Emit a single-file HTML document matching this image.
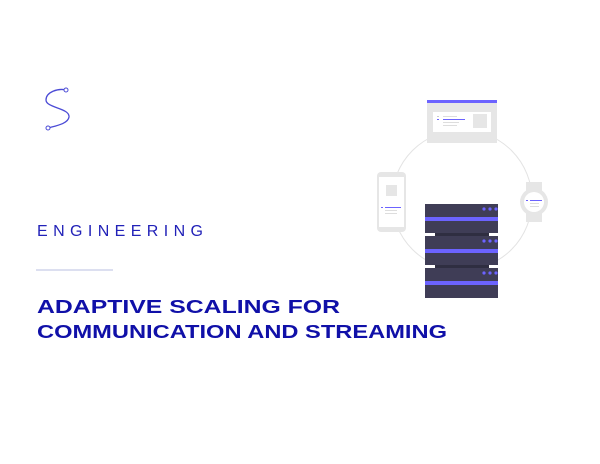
<!DOCTYPE html>
<html><head><style>html,body{margin:0;padding:0;background:#fff}svg{display:block}</style></head>
<body>
<svg width="600" height="464" viewBox="0 0 600 464" xmlns="http://www.w3.org/2000/svg">
<rect width="600" height="464" fill="#fff"/>
<!-- S logo -->
<path d="M66,90 C58,88 46,92 46,100 C46,108 70,108 69,117 C68,124 55,126 48,128" fill="none" stroke="#4b4bd6" stroke-width="1.3"/>
<circle cx="66" cy="90" r="2" fill="#fff" stroke="#4b4bd6" stroke-width="1"/>
<circle cx="48" cy="128" r="2" fill="#fff" stroke="#4b4bd6" stroke-width="1"/>
<!-- text -->
<text x="37" y="236" font-family="Liberation Sans, sans-serif" font-size="16" fill="#2222b8" textLength="166" lengthAdjust="spacing">ENGINEERING</text>
<rect x="36" y="269.5" width="77" height="1" fill="#b8bfe0"/>
<g font-family="Liberation Sans, sans-serif" font-weight="bold" font-size="18" fill="#1010a8">
<text x="37" y="313" textLength="303" lengthAdjust="spacingAndGlyphs">ADAPTIVE SCALING FOR</text>
<text x="37" y="338" textLength="410" lengthAdjust="spacingAndGlyphs">COMMUNICATION AND STREAMING</text>
</g>
<!-- circle -->
<circle cx="462" cy="200" r="70" fill="none" stroke="#e3e3e3" stroke-width="1"/>
<!-- browser -->
<rect x="427" y="100" width="70" height="43" fill="#e6e6e6"/>
<rect x="427" y="100" width="70" height="3" fill="#6c63ff"/>
<rect x="433" y="112" width="58" height="20" fill="#fff"/>
<rect x="473" y="114" width="14" height="14" fill="#e6e6e6"/>
<rect x="437" y="116" width="2" height="1" fill="#ccc"/>
<rect x="437" y="119" width="2" height="1" fill="#6c63ff"/>
<rect x="443" y="119" width="22" height="1" fill="#6c63ff"/>
<rect x="443" y="116" width="14" height="1" fill="#ddd"/>
<rect x="443" y="122" width="16" height="1" fill="#ddd"/>
<rect x="443" y="125" width="14" height="1" fill="#ddd"/>
<!-- phone -->
<rect x="377" y="172" width="29" height="60" rx="4" fill="#e6e6e6"/>
<rect x="379" y="177" width="25" height="50" fill="#fff"/>
<rect x="386" y="185" width="11" height="11" fill="#e6e6e6"/>
<rect x="381" y="207" width="2" height="1" fill="#6c63ff"/>
<rect x="385" y="207" width="16" height="1" fill="#6c63ff"/>
<rect x="385" y="210" width="12" height="1" fill="#ddd"/>
<rect x="385" y="213" width="12" height="1" fill="#ddd"/>
<!-- watch -->
<rect x="526" y="182" width="16" height="40" fill="#e6e6e6"/>
<circle cx="534" cy="202" r="14" fill="#e6e6e6"/>
<circle cx="534" cy="202" r="10" fill="#fff"/>
<rect x="526" y="200" width="2" height="1" fill="#6c63ff"/>
<rect x="530" y="200" width="12" height="1" fill="#6c63ff"/>
<rect x="530" y="203" width="9" height="1" fill="#ddd"/>
<rect x="530" y="206" width="9" height="1" fill="#ddd"/>
<!-- server -->
<rect x="435" y="233" width="54" height="4" fill="#2f2e41"/>
<rect x="435" y="265" width="54" height="4" fill="#2f2e41"/>
<g>
<rect x="425" y="204" width="73" height="29" fill="#3f3d56"/>
<rect x="425" y="217" width="73" height="4" fill="#6c63ff"/>
<rect x="425" y="236" width="73" height="29" fill="#3f3d56"/>
<rect x="425" y="249" width="73" height="4" fill="#6c63ff"/>
<rect x="425" y="268" width="73" height="30" fill="#3f3d56"/>
<rect x="425" y="281" width="73" height="4" fill="#6c63ff"/>
</g>
<g fill="#6c63ff">
<circle cx="484" cy="209" r="1.6"/><circle cx="490" cy="209" r="1.6"/><circle cx="496" cy="209" r="1.6"/>
<circle cx="484" cy="241" r="1.6"/><circle cx="490" cy="241" r="1.6"/><circle cx="496" cy="241" r="1.6"/>
<circle cx="484" cy="273" r="1.6"/><circle cx="490" cy="273" r="1.6"/><circle cx="496" cy="273" r="1.6"/>
</g>
</svg>
</body></html>
